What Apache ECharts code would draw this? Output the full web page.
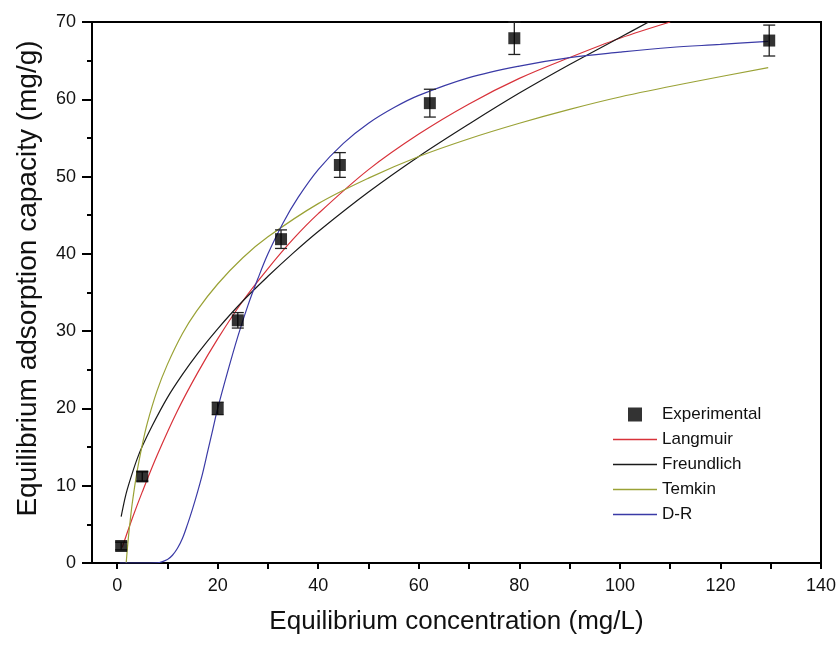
<!DOCTYPE html>
<html><head><meta charset="utf-8">
<script src="https://cdn.jsdelivr.net/npm/echarts@6/dist/echarts.min.js"></script>
<style>html,body{margin:0;padding:0;background:#fff}#c{width:840px;height:646px}</style>
</head><body><div id="c"></div>
<script>
// Experimental data
const expX = [0.8, 5.0, 20.0, 24.0, 32.6, 44.3, 62.2, 79.0, 129.7];
const expY = [2.2, 11.2, 20.0, 31.4, 41.9, 51.5, 59.5, 67.9, 67.6];
const expErr = [0.5, 0.6, 0.8, 1.0, 1.2, 1.6, 1.8, 2.1, 2.0];
// Fitted curves
const langX = [1, 3, 5, 8, 12, 16, 20, 25, 30, 35, 40, 50, 60, 70, 80, 90, 100, 110];
const langY = [2.0, 5.75, 9.2, 14.0, 19.7, 24.6, 29.0, 33.9, 38.1, 41.9, 45.2, 50.9, 55.5, 59.4, 62.7, 65.4, 67.9, 70.0];
const freuX = [0.8, 1.5, 2, 3, 4, 5, 7, 10, 13, 16, 20, 25, 30, 35, 40, 50, 60, 70, 80, 90, 100, 106];
const freuY = [6.0, 8.2, 9.5, 11.6, 13.5, 15.1, 17.8, 21.4, 24.4, 27.1, 30.3, 33.9, 37.1, 40.1, 42.9, 48.0, 52.6, 56.8, 60.8, 64.5, 68.0, 70.1];
const temkX = [1.8, 2, 2.3, 2.6, 3, 3.9, 5, 6, 7.9, 10, 13, 15.8, 20, 25, 30, 40, 50, 60, 70, 80, 90, 100, 115, 129.5];
const temkY = [0, 1.6, 3.7, 5.5, 7.7, 11.6, 15.3, 18.1, 22.2, 25.7, 29.7, 32.6, 36.1, 39.5, 42.2, 46.5, 49.8, 52.6, 54.9, 56.9, 58.7, 60.3, 62.3, 64.1];
const drX = [0.5, 4, 8, 10, 11, 12, 13, 14, 15, 16, 17, 18, 19, 20, 22, 24, 26, 28, 30, 33, 36, 40, 45, 50, 55, 60, 70, 80, 90, 100, 110, 120, 129.5];
const drY = [0, 0, 0.03, 0.45, 1.0, 1.9, 3.2, 5.0, 7.0, 9.2, 11.6, 14.4, 17.2, 20.0, 24.8, 29.3, 33.3, 36.8, 40.0, 44.0, 47.3, 50.9, 54.3, 56.9, 58.9, 60.5, 62.8, 64.3, 65.4, 66.1, 66.7, 67.1, 67.5];
// Axis ticks
const xLabels = [0, 20, 40, 60, 80, 100, 120, 140];
const xTicks = [0, 10, 20, 30, 40, 50, 60, 70, 80, 90, 100, 110, 120, 130, 140];

const zip = (a, b) => a.map((v, i) => [v, b[i]]);
const font = 'Liberation Sans, Arial, sans-serif';
const chart = echarts.init(document.getElementById('c'), null, {renderer: 'canvas'});
const lineSeries = (name, xs, ys, color) => ({
  name, type: 'line', data: zip(xs, ys), showSymbol: false, symbol: 'none',
  smooth: 0.35, lineStyle: {color, width: 1.2}, itemStyle: {color}, z: 3, silent: true
});
const lineIcon = 'path://M0,0H44V1.3H0Z';
chart.setOption({
  animation: false,
  backgroundColor: '#fff',
  textStyle: {fontFamily: font},
  grid: {left: 92, top: 22, right: 19, bottom: 83, show: true, borderColor: '#000', borderWidth: 2, backgroundColor: 'transparent'},
  legend: {
    orient: 'vertical', left: 608, top: 401, itemWidth: 44, itemHeight: 14, itemGap: 8,
    textStyle: {fontSize: 17, color: '#111', fontFamily: font},
    data: [
      {name: 'Experimental', icon: 'path://M0,0H10V10H0Z'},
      {name: 'Langmuir', icon: lineIcon},
      {name: 'Freundlich', icon: lineIcon},
      {name: 'Temkin', icon: lineIcon},
      {name: 'D-R', icon: lineIcon}
    ]
  },
  xAxis: {
    type: 'value', min: -5, max: 140,
    name: 'Equilibrium concentration (mg/L)', nameLocation: 'middle', nameGap: 46,
    nameTextStyle: {fontSize: 26, color: '#111', fontFamily: font},
    axisLine: {show: true, onZero: false, lineStyle: {color: '#000', width: 2}},
    axisTick: {show: true, length: 6, customValues: xTicks, lineStyle: {color: '#000', width: 2}},
    axisLabel: {customValues: xLabels, margin: 14, fontSize: 18, color: '#111', fontFamily: font},
    splitLine: {show: false}
  },
  yAxis: {
    type: 'value', min: 0, max: 70, interval: 10,
    name: 'Equilibrium adsorption capacity (mg/g)', nameLocation: 'middle', nameGap: 50,
    nameTextStyle: {fontSize: 28, color: '#111', fontFamily: font, padding: [0, 0, 0, 28]},
    axisLine: {show: true, onZero: false, lineStyle: {color: '#000', width: 2}},
    axisTick: {show: true, length: 10, lineStyle: {color: '#000', width: 2}},
    minorTick: {show: true, splitNumber: 2, length: 5, lineStyle: {color: '#000', width: 2}},
    axisLabel: {margin: 16, fontSize: 18, color: '#111', fontFamily: font},
    splitLine: {show: false}
  },
  series: [
    lineSeries('Langmuir', langX, langY, '#d8323a'),
    lineSeries('Freundlich', freuX, freuY, '#1a1a1a'),
    lineSeries('Temkin', temkX, temkY, '#9aa236'),
    lineSeries('D-R', drX, drY, '#3a3aa6'),
    {
      name: 'err', type: 'custom', z: 4, silent: true,
      data: expX.map((x, i) => [x, expY[i] - expErr[i], expY[i] + expErr[i]]),
      renderItem: (params, api) => {
        const x = api.value(0);
        const p1 = api.coord([x, api.value(1)]);
        const p2 = api.coord([x, api.value(2)]);
        const w = 6;
        const st = {stroke: '#222', lineWidth: 1.3};
        return {type: 'group', children: [
          {type: 'line', shape: {x1: p1[0], y1: p1[1], x2: p2[0], y2: p2[1]}, style: st},
          {type: 'line', shape: {x1: p1[0] - w, y1: p1[1], x2: p1[0] + w, y2: p1[1]}, style: st},
          {type: 'line', shape: {x1: p2[0] - w, y1: p2[1], x2: p2[0] + w, y2: p2[1]}, style: st}
        ]};
      }
    },
    {
      name: 'Experimental', type: 'scatter', data: zip(expX, expY), symbol: 'rect', symbolSize: 12,
      itemStyle: {color: '#000'}, z: 5, silent: true
    }
  ]
});
</script>
</body></html>
